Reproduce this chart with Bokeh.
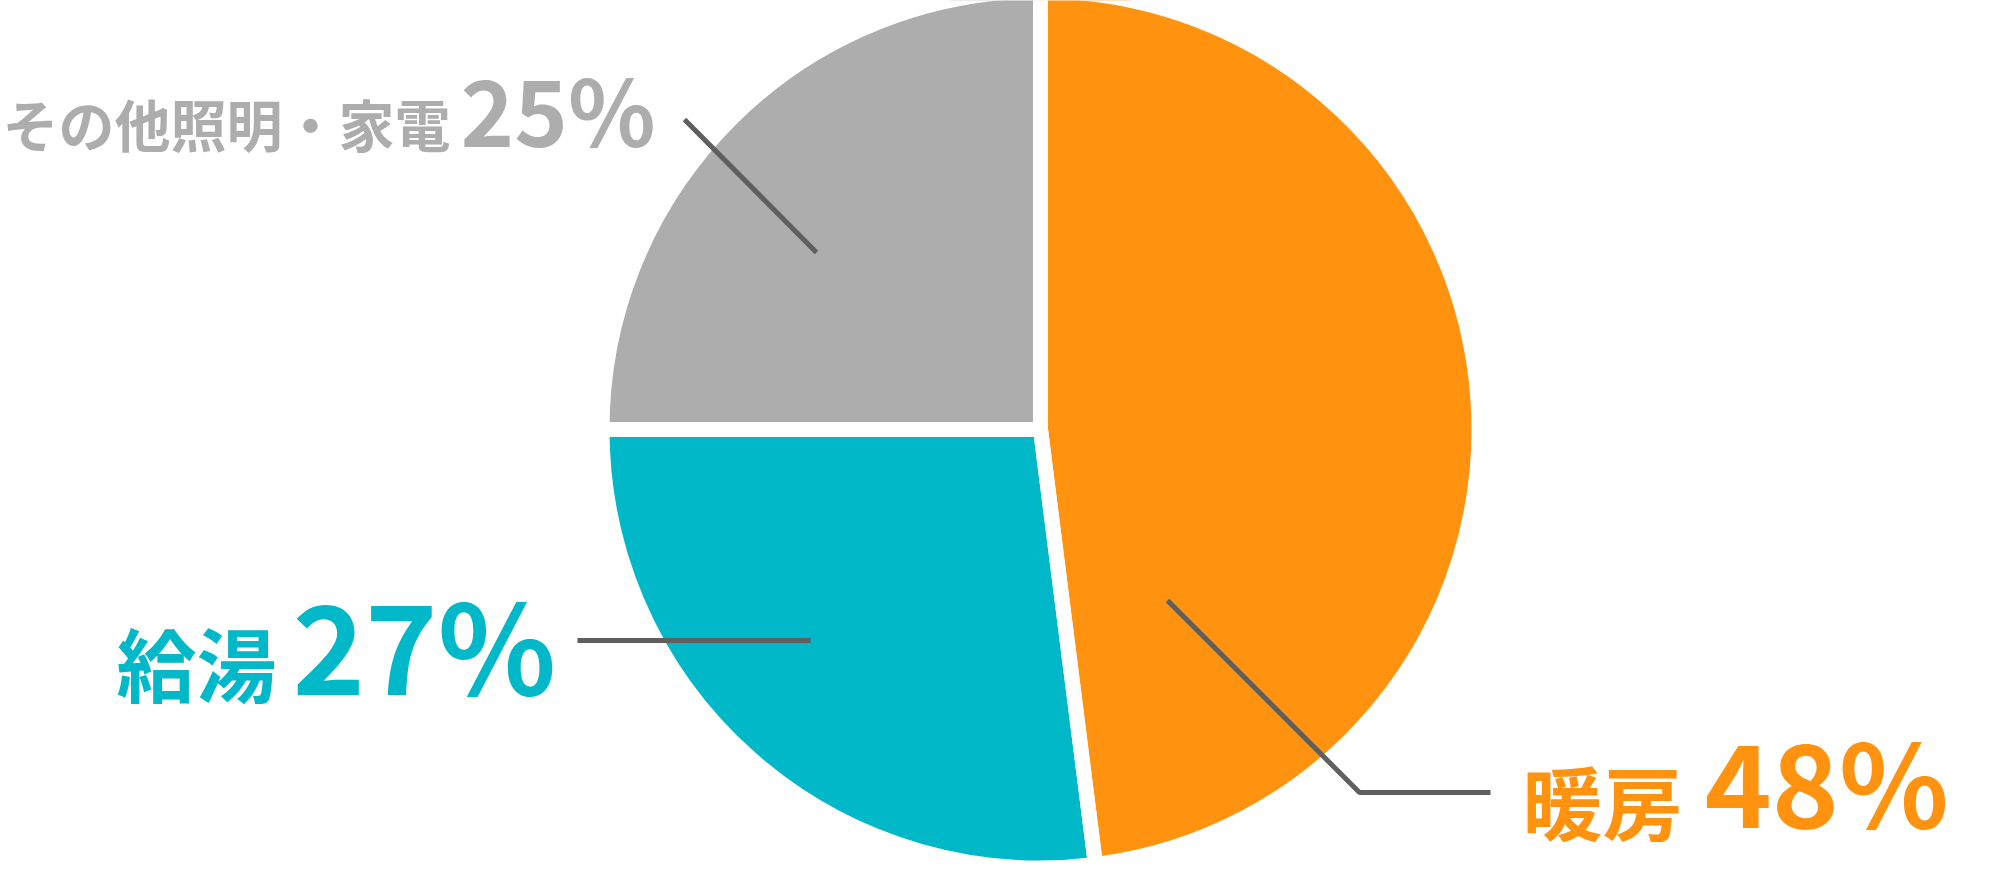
import math

from bokeh.plotting import figure
from bokeh.models import Range1d
from bokeh.core.properties import value
from bokeh.embed import file_html
from bokeh.resources import INLINE

# data
labels = ["暖房", "給湯", "その他照明・家電"]
shares = [48, 27, 25]
pct_labels = ["48%", "27%", "25%"]
colors = ["#FF920E", "#00B8C8", "#ADADAD"]

# layout (screen px, page origin top-left)
W, H = 1980, 862
CX, CY = 1048, 437
R_VISIBLE = 431
GAP = 15
FONT = "Noto Sans CJK JP"
LINE_COLOR = "#5F5F5F"
BASE_SHIFT = 0.44  # svg text sits lower than the nominal baseline

label_pos = [  # (name x, name baseline, name size, pct x, pct baseline, pct size)
    (1530, 842, 80, 1712, 836, 114),
    (124, 704, 80, 300, 703, 123),
    (10, 155, 56, 468, 155, 91),
]
leaders = [
    ([1175, 1367, 1498], [608, 800, 800]),
    ([585, 818], [648, 648]),
    ([692, 824], [127, 260]),
]


def sy(y):
    # page y (down) -> data y (up)
    return 878 - y


p = figure(width=W, height=H, x_range=Range1d(8, 8 + W), y_range=Range1d(8, 8 + H),
           x_axis_type=None, y_axis_type=None, toolbar_location=None,
           output_backend="svg", min_border=0)
p.grid.visible = False
p.outline_line_color = None
p.background_fill_color = "white"
p.border_fill_color = "white"

# slice angles, clockwise from 12 o'clock
total = float(sum(shares))
starts, ends = [], []
cum = 0.0
for s in shares:
    starts.append(math.pi / 2 - 2 * math.pi * cum / total)
    cum += s
    ends.append(math.pi / 2 - 2 * math.pi * cum / total)

r = R_VISIBLE + GAP / 2
p.wedge(x=CX, y=sy(CY), radius=r, start_angle=starts, end_angle=ends,
        direction="clock", fill_color=colors, line_color=None)
# white separators between the slices
p.wedge(x=CX, y=sy(CY), radius=r, start_angle=starts, end_angle=ends,
        direction="clock", fill_alpha=0, line_color="white", line_width=GAP,
        line_join="round")

for xs, ys in leaders:
    p.line(xs, [sy(v) for v in ys], line_color=LINE_COLOR, line_width=5)

for name, pct, col, pos in zip(labels, pct_labels, colors, label_pos):
    nx, ny, nsize, px, py, psize = pos
    p.text(x=[nx], y=[sy(ny - BASE_SHIFT * nsize)], text=[name], text_font=value(FONT),
           text_font_size=f"{nsize}px", text_font_style="bold", text_color=col,
           text_align="left", text_baseline="alphabetic")
    p.text(x=[px], y=[sy(py - BASE_SHIFT * psize)], text=[pct], text_font=value(FONT),
           text_font_size=f"{psize}px", text_font_style="bold", text_color=col,
           text_align="left", text_baseline="alphabetic")

open("out.html", "w").write(file_html(p, INLINE))
